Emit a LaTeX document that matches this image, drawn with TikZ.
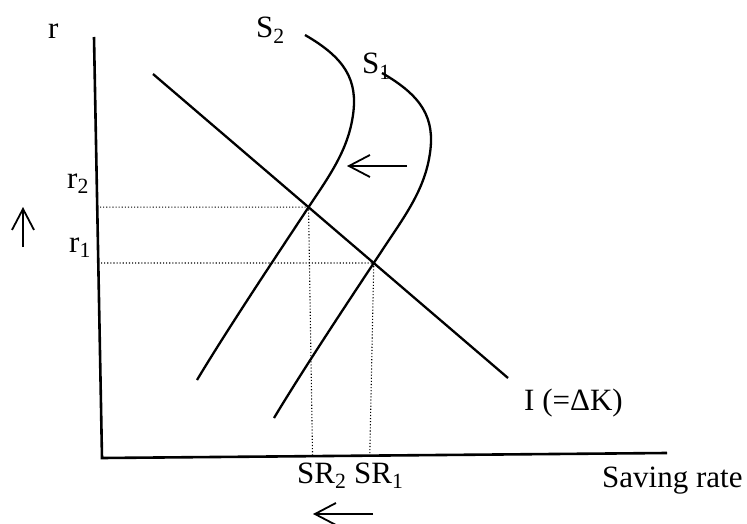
\documentclass[tikz,border=0pt]{standalone}
\usepackage{fontspec}
\setmainfont{Liberation Serif}
\usetikzlibrary{arrows.meta,intersections,calc}
\begin{document}
\begin{tikzpicture}[x=1pt,y=-1pt,
  axisline/.style={line width=2.6pt},
  curve/.style={line width=2.3pt},
  guide/.style={dotted,line width=1.1pt},
  barb/.style={line width=1.8pt,-{Straight Barb[length=21pt,width=22pt,line width=1.8pt]}},
  lbl/.style={inner sep=0pt,font=\fontsize{31}{34}\selectfont}]
\useasboundingbox (0,0) rectangle (747,524);
% axes
\coordinate (Ytop) at (94,37);
\coordinate (O) at (102,458);
\coordinate (Xend) at (667,453);
\draw[axisline] (Ytop) -- (O) -- (Xend);
% investment line
\coordinate (Ia) at (153,74);
\coordinate (Ib) at (508,378);
\draw[curve,name path=I] (Ia) -- (Ib);
% S2 curve
\draw[curve,name path=S2] (305,35) .. controls (345,58) and (358,80) .. (353,115)
  .. controls (348,150) and (330,175) .. (308,208)
  .. controls (285,243) and (230,325) .. (197,380);
% S1 curve (shifted copy)
\draw[curve,name path global=S1,shift={(77,38)}] (305,35) .. controls (345,58) and (358,80) .. (353,115)
  .. controls (348,150) and (330,175) .. (308,208)
  .. controls (285,243) and (230,325) .. (197,380);
\path[name intersections={of=I and S2,by=E2}];
\path[name intersections={of=I and S1,by=E1}];
\coordinate (F2) at ($(E2 |- O)+(4,-2)$);
\coordinate (F1) at ($(E1 |- O)+(-4,-3)$);
% dotted guides
\draw[guide] ([xshift=-2pt]O |- E2) -- (E2) -- (F2);
\draw[guide] ([xshift=-1pt]O |- E1) -- (E1) -- (F1);
% arrows
\coordinate (ua) at (23,247); \coordinate (ub) at (23,207);
\draw[barb] (ua) -- (ub);
\coordinate (ma) at (407,166); \coordinate (mb) at (347,166);
\draw[barb] (ma) -- (mb);
\coordinate (ba) at (373,514); \coordinate (bb) at (313,514);
\draw[barb] (ba) -- (bb);
% labels
\node[lbl,anchor=base west] (lr) at (48,39) {r};
\node[lbl,anchor=base west] (lr2) at (67,188) {r\textsubscript{2}};
\node[lbl,anchor=base west] (lr1) at (69,252) {r\textsubscript{1}};
\node[lbl,anchor=base west] (lS2) at (256,38) {S\textsubscript{2}};
\node[lbl,anchor=base west] (lS1) at (362,74) {S\textsubscript{1}};
\node[lbl,anchor=base west] (lSR) at (297,483) {SR\textsubscript{2} SR\textsubscript{1}};
\node[lbl,anchor=base west] (lsave) at (602,487) {Saving rate};
\node[lbl,anchor=base west] (lI) at (524,410) {I (=ΔK)};
\end{tikzpicture}
\end{document}
